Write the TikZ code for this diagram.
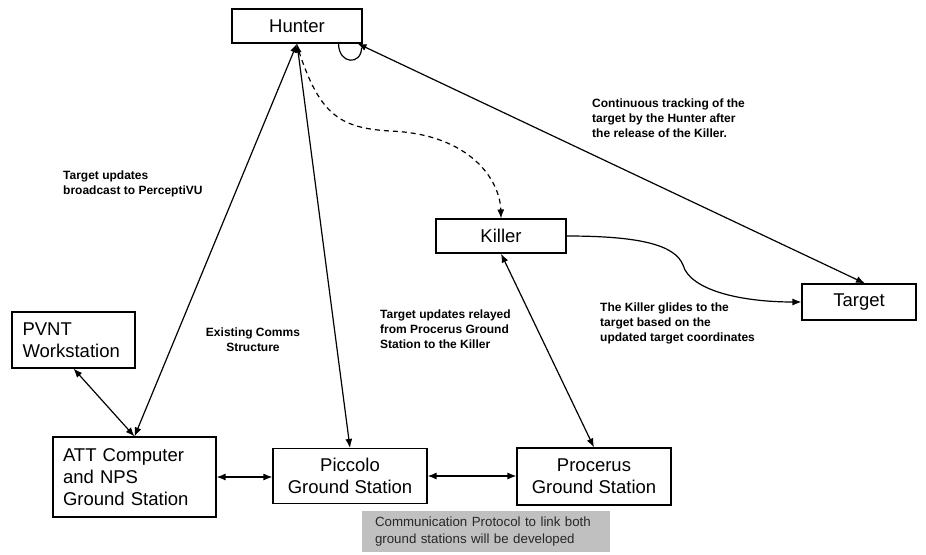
\documentclass[tikz,border=0pt]{standalone}
\usepackage{fontspec}
\setmainfont{Liberation Sans}
\usetikzlibrary{arrows.meta}
\begin{document}
\begin{tikzpicture}[x=1pt,y=-1pt,
  >={Latex[length=9pt,width=7pt]},
  box/.style={draw, line width=1.1pt, inner sep=0pt, align=center,
    font=\fontsize{18.5}{22}\selectfont},
  lbl/.style={inner sep=0pt, font=\fontsize{12}{15}\selectfont\bfseries},
  link/.style={line width=1.2pt},
  note/.style={fill={rgb,255:red,192;green,192;blue,192}, inner xsep=13pt, inner ysep=0pt,
    text width=222pt, align=left, minimum height=41pt,
    text={rgb,255:red,40;green,40;blue,40}, font=\fontsize{13.3}{17}\selectfont}]
\fill[white] (0,0) rectangle (926,554);
\useasboundingbox (0,0) rectangle (926,554);

% boxes
\node[box, minimum width=130pt, minimum height=34pt] (hunter) at (297,26) {Hunter};
\node[box, minimum width=130pt, minimum height=34pt] (killer) at (501,236) {Killer};
\node[box, minimum width=114pt, minimum height=36pt] (target) at (859,302) {Target};
\node[box, minimum width=123pt, minimum height=56pt, text width=102pt, align=left] (pvnt) at (73.5,340) {PVNT\\Workstation};
\node[box, minimum width=163pt, minimum height=80pt, text width=143pt, align=left] (att) at (134.5,477) {ATT Computer\\and NPS\\Ground Station};
\node[box, minimum width=154pt, minimum height=55pt] (piccolo) at (350,476) {Piccolo\\Ground Station};
\node[box, minimum width=154pt, minimum height=57pt] (procerus) at (594,476.5) {Procerus\\Ground Station};

% labels
\node[lbl, anchor=north west, align=left] (l1) at (63,171) {Target updates\\broadcast to PerceptiVU};
\node[lbl, align=center] (l2) at (253,340) {Existing Comms\\Structure};
\node[lbl, anchor=north west, align=left] (l3) at (380,310) {Target updates relayed\\from Procerus Ground\\Station to the Killer};
\node[lbl, anchor=north west, align=left] (l4) at (600,303) {The Killer glides to the\\target based on the\\updated target coordinates};
\node[lbl, anchor=north west, align=left] (l5) at (592,99) {Continuous tracking of the\\target by the Hunter after\\the release of the Killer.};
\node[note] (nt) at (486,531.5) {Communication Protocol to link both\\ground stations will be developed};

% connectors
\draw[link,<->] (att.north) -- (hunter.south);
\draw[link,<->] (piccolo.north) -- (hunter.south);
\draw[link,<->] (pvnt.south) -- (att.north);
\draw[link,<->] (att.east) -- (att.east -| piccolo.west);
\draw[link,<->] (piccolo.east) -- (piccolo.east -| procerus.west);
\draw[link,<->] (procerus.north) -- (killer.south);
\draw[link,<->] ([xshift=6pt]target.north) -- ([xshift=-5pt]hunter.south east);
\draw[link,->] (killer.east) .. controls (640,236) and (675,245) .. (683,265)
  .. controls (690,290) and (740,302) .. (target.west);
\draw[link,->,dash pattern=on 5pt off 4pt] ([xshift=2pt,yshift=-8pt]hunter.south)
  .. controls (320,115) and (340,128) .. (390,131)
  .. controls (470,134) and (500,180) .. (killer.north);
\draw[link] ([xshift=-24pt]hunter.south east) .. controls +(0,21) and +(0,18) .. ([xshift=-1pt,yshift=-4pt]hunter.south east);
\end{tikzpicture}
\end{document}
